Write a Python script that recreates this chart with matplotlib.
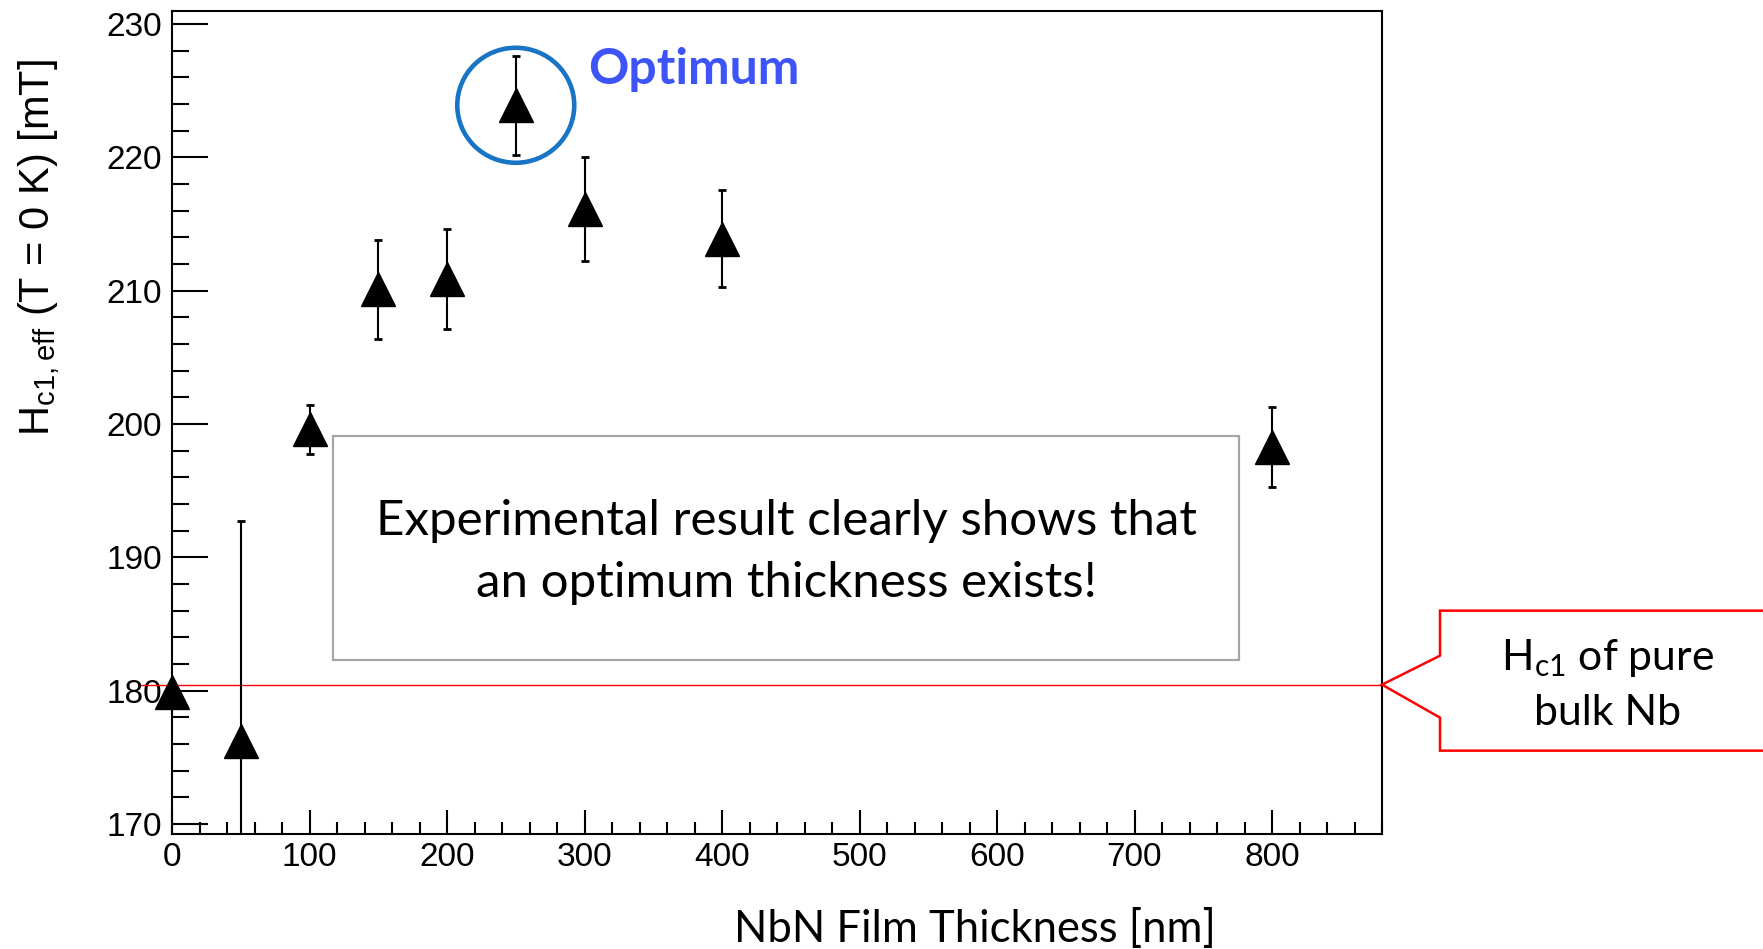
import numpy as np
import matplotlib
matplotlib.use("Agg")
import matplotlib.pyplot as plt
from matplotlib.patches import Polygon, Ellipse, Rectangle
from matplotlib.ticker import MultipleLocator

# data
thickness = [0, 50, 100, 150, 200, 250, 300, 400, 800]
hc1_eff = [179.9, 176.2, 199.6, 210.1, 210.9, 223.9, 216.1, 213.9, 198.3]
hc1_err = [0.0, 16.5, 1.85, 3.7, 3.75, 3.7, 3.9, 3.65, 3.0]
hc1_bulk = 180.45
optimum_x = 250

W, H, DPI = 1763, 949, 100
fig = plt.figure(figsize=(W / DPI, H / DPI), dpi=DPI)
ax = fig.add_axes([172 / W, 1 - 834 / H, (1382 - 172) / W, (834 - 11) / H])

ax.set_xlim(0, 880)
ax.set_ylim(169.25, 230.97)

# error bars (clipped) then markers (not clipped, like ROOT)
ax.errorbar(thickness, hc1_eff, yerr=hc1_err, fmt='none', ecolor='black',
            elinewidth=1.5, capsize=3, capthick=2, zorder=3)
ax.plot(thickness, hc1_eff, linestyle='none', marker='^', markersize=24,
        color='black', clip_on=False, zorder=4)

# Hc1 of bulk Nb
ax.axhline(hc1_bulk, xmin=-0.026, xmax=1.0, color='#ff0000', lw=1.0,
           clip_on=False, zorder=2)

# axes styling: ROOT-like inward ticks on left/bottom only
for s in ax.spines.values():
    s.set_linewidth(1.5)
ax.xaxis.set_major_locator(MultipleLocator(100))
ax.xaxis.set_minor_locator(MultipleLocator(20))
ax.yaxis.set_major_locator(MultipleLocator(10))
ax.yaxis.set_minor_locator(MultipleLocator(2))
ax.tick_params(axis='both', which='both', direction='in', top=False, right=False,
               width=1.5, labelsize=24)
ax.tick_params(axis='x', which='major', length=17, pad=6)
ax.tick_params(axis='x', which='minor', length=9)
ax.tick_params(axis='y', which='major', length=26, pad=7)
ax.tick_params(axis='y', which='minor', length=12)
ax.set_xticks([0, 100, 200, 300, 400, 500, 600, 700, 800])
for lab in ax.get_xticklabels() + ax.get_yticklabels():
    lab.set_fontfamily('Liberation Sans')

fig.text(39 / W, 1 - 247 / H, r"H$_{\mathregular{c1,eff}}$ (T = 0 K) [mT]",
         fontsize=30, fontfamily='Liberation Sans', rotation=90,
         ha='center', va='center')
fig.text(975 / W, 1 - 930 / H, "NbN Film Thickness [nm]", fontsize=31.4,
         fontfamily='Lato', ha='center', va='center')

# optimum circle and label
fig.canvas.draw()
px, py = ax.transData.transform((optimum_x, hc1_eff[thickness.index(optimum_x)]))
circ = Ellipse((px / W, py / H), 117 / W, 115 / H, transform=fig.transFigure,
               fill=False, edgecolor='#1874c4', lw=3.3, zorder=5)
fig.add_artist(circ)
fig.text(588 / W, 1 - 70 / H, "Optimum", fontsize=36, fontweight='bold',
         fontfamily='Lato', color='#3d55f8', ha='left', va='center')

# grey message box
fig.add_artist(Rectangle((333 / W, 1 - 660 / H), (1239 - 333) / W, (660 - 436) / H,
                         transform=fig.transFigure, fill=False,
                         edgecolor='#a6a6a6', lw=1.6))
fig.text(786 / W, 1 - 552 / H,
         "Experimental result clearly shows that\nan optimum thickness exists!",
         fontsize=35.5, fontfamily='Lato', ha='center', va='center', linespacing=1.52)

# red callout pointing at the bulk Nb line
tx, ty = ax.transData.transform((ax.get_xlim()[1], hc1_bulk))
bx0 = tx + 58
verts = [(bx0, ty + 74), (W + 20, ty + 74), (W + 20, ty - 66), (bx0, ty - 66),
         (bx0, ty - 33), (tx, ty), (bx0, ty + 29)]
verts = [(x / W, y / H) for x, y in verts]
fig.add_artist(Polygon(verts, closed=True, transform=fig.transFigure,
                       facecolor='white', edgecolor='#ff0000', lw=1.8))
fig.text(1608 / W, (ty + 0) / H, "H$_{\\mathregular{c1}}$ of pure\nbulk Nb",
         fontsize=30.8, fontfamily='Lato', ha='center', va='center', linespacing=1.48)

fig.savefig("out.png", dpi=DPI)
